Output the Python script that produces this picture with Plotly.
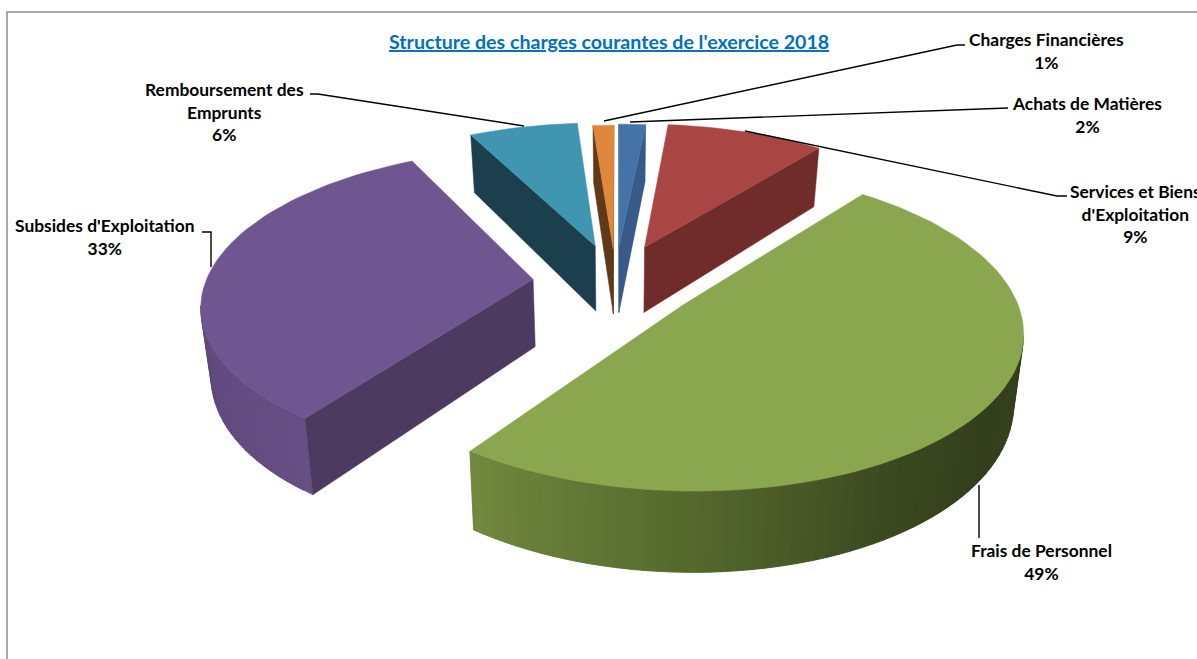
import math
import plotly.graph_objects as go

# ---- data ----
categories = ["Achats de Matières", "Services et Biens d'Exploitation", "Frais de Personnel",
              "Subsides d'Exploitation", "Remboursement des Emprunts", "Charges Financières"]
values = [1.55, 9.15, 49.2, 32.6, 6.3, 1.2]
label_text = ["Achats de Matières", "Services et Biens<br>d'Exploitation", "Frais de Personnel",
              "Subsides d'Exploitation", "Remboursement des<br>Emprunts", "Charges Financières"]
title_text = "Structure des charges courantes de l'exercice 2018"

# ---- style ----
top_colors = ["#4573A7", "#A94644", "#8AA64F", "#6F5690", "#4095B0", "#E0873B"]
side_colors = ["#375A88", "#702C2A", "#4A5C28", "#4D3A60", "#1B3F4C", "#5F3A18"]
explode_x = [0.003, 0.084, 0.195, -0.26, -0.072, -0.015]
explode_y = [0.29, 0.29, -0.095, 0.07, 0.30, 0.28]
green_stops = [(90, "#3A441E"), (125, "#333E1B"), (150, "#3B4A20"), (180, "#55682D"), (216, "#72893F")]
purple_stops = [(216, "#674F85"), (250, "#60497D"), (275, "#5A4575")]
label_xy = [(1087, 115), (1135, 214), (1041, 562), (105, 237), (224, 112), (1046, 51)]
leaders = [
    [(630, 122), (1008, 108)],
    [(745, 131), (1057, 196), (1067, 196)],
    [(979, 485), (979, 538)],
    [(202, 232), (211, 232), (211, 267)],
    [(310, 94), (318, 94), (524, 126)],
    [(604, 121), (957, 45), (965, 45)],
]
CX, CY, R, TILT, K, DEPTH, SHRINK = 618, 290, 330, 0.465, 0.15, 68, 0.975
W, H = 1197, 659


def project(a_deg, r, ox, oy):
    a = math.radians(a_deg)
    X, Y = r * math.sin(a) + ox, r * math.cos(a) + oy
    w = 1 + K * Y
    return CX + X * R / w, CY - Y * R * TILT / w, DEPTH / w


def hex_rgb(c):
    return tuple(int(c[i:i + 2], 16) for i in (1, 3, 5))


def blend(stops, a):
    if a <= stops[0][0]:
        return stops[0][1]
    for (a0, c0), (a1, c1) in zip(stops, stops[1:]):
        if a <= a1:
            f = (a - a0) / (a1 - a0)
            r0, r1 = hex_rgb(c0), hex_rgb(c1)
            return "#%02X%02X%02X" % tuple(round(p + (q - p) * f) for p, q in zip(r0, r1))
    return stops[-1][1]


fig = go.Figure()


def poly(xs, ys, color):
    fig.add_trace(go.Scatter(x=xs + xs[:1], y=ys + ys[:1], mode="lines", fill="toself", fillcolor=color,
                             line=dict(color=color, width=0.5), hoverinfo="skip", showlegend=False))


def bottom(p):
    return CX + (p[0] - CX) * SHRINK, p[1] + p[2]


total = sum(values)
spans, acc = [], 0
for v in values:
    spans.append((acc / total * 360, (acc + v) / total * 360))
    acc += v

order = [4, 5, 0, 1, 3, 2]  # back to front
for i in order:
    a0, a1 = spans[i]
    ox, oy = explode_x[i], explode_y[i]
    tip = project(0, 0, ox, oy)
    n = max(4, int((a1 - a0) / 2))
    angs = [a0 + (a1 - a0) * j / n for j in range(n + 1)]
    pts = [project(a, 1, ox, oy) for a in angs]

    # outer wall: overlapping strips painted in order, only where it faces the viewer
    for j in range(n):
        p, q = pts[j], pts[j + 1]
        if q[0] < p[0]:
            mid = (angs[j] + angs[j + 1]) / 2
            if i == 2:
                c = blend(green_stops, mid)
            elif i == 3:
                c = blend(purple_stops, mid)
            else:
                c = side_colors[i]
            r = pts[min(j + 2, n)]
            if r[0] >= p[0]:
                r = q
            bp, bq, br = bottom(p), bottom(q), bottom(r)
            poly([p[0], q[0], r[0], br[0], bq[0], bp[0]], [p[1], q[1], r[1], br[1], bq[1], bp[1]], c)

    # radial walls
    if pts[0][0] < tip[0]:
        b0, bt = bottom(pts[0]), bottom(tip)
        poly([tip[0], pts[0][0], b0[0], bt[0]], [tip[1], pts[0][1], b0[1], bt[1]], side_colors[i])
    if pts[-1][0] > tip[0]:
        b0, bt = bottom(pts[-1]), bottom(tip)
        poly([tip[0], pts[-1][0], b0[0], bt[0]], [tip[1], pts[-1][1], b0[1], bt[1]], side_colors[i])

    # top face
    poly([tip[0]] + [p[0] for p in pts], [tip[1]] + [p[1] for p in pts], top_colors[i])

font = dict(family="Lato, Carlito, sans-serif", size=17.4, color="#000000")
annotations = [dict(x=609, y=41, text="<u><b>%s</b></u>" % title_text, showarrow=False, xanchor="center",
                    yanchor="middle", font=dict(family="Lato, sans-serif", size=19.6, color="#0070C0"))]
for (lx, ly), lab, v in zip(label_xy, label_text, values):
    annotations.append(dict(x=lx, y=ly, text="<b>%s<br>%d%%</b>" % (lab, round(v)), showarrow=False, xanchor="center",
                            yanchor="middle", align="center", font=font))

shapes = [dict(type="path", path="M 7 680 L 7 12 L 1220 12", line=dict(color="#8C8C8C", width=1.5), layer="below")]
for pts in leaders:
    path = "M " + " L ".join("%g %g" % p for p in pts)
    shapes.append(dict(type="path", path=path, line=dict(color="#000000", width=1.4)))

fig.update_layout(
    width=W, height=H, margin=dict(l=0, r=0, t=0, b=0),
    paper_bgcolor="white", plot_bgcolor="white", showlegend=False,
    xaxis=dict(range=[0, W], visible=False, fixedrange=True),
    yaxis=dict(range=[H, 0], visible=False, fixedrange=True),
    annotations=annotations, shapes=shapes,
)
fig.write_html("out.html", config={"displayModeBar": False},
               post_script="document.body.style.margin='0';document.body.style.overflow='hidden';")
